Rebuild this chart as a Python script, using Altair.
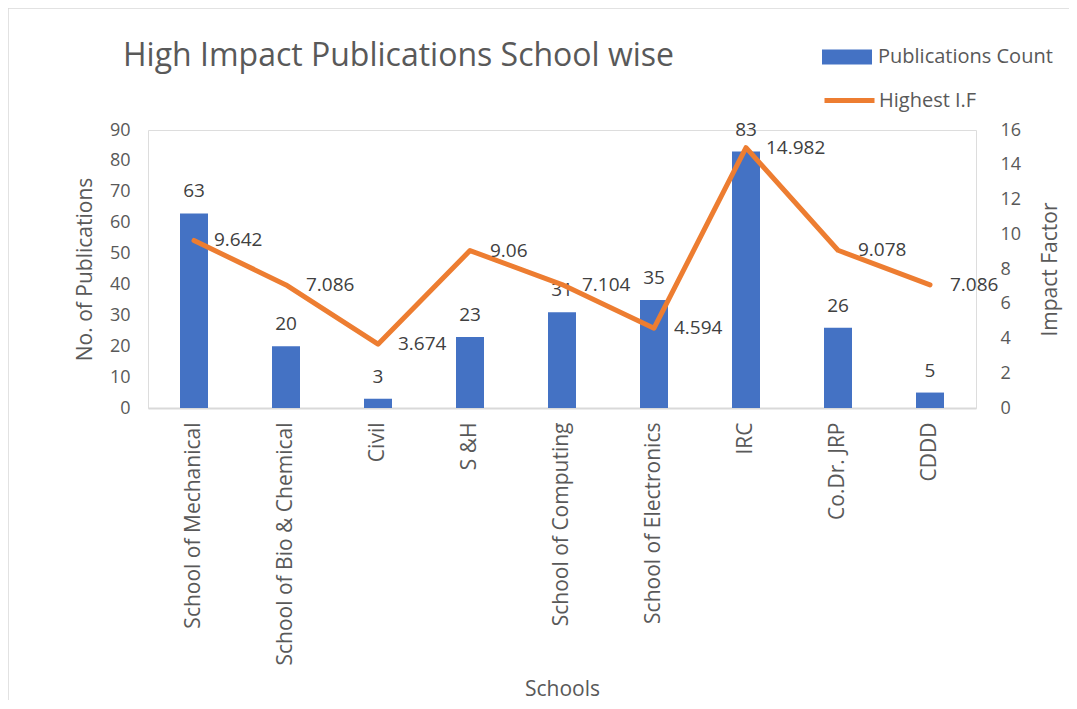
import altair as alt
import pandas as pd

schools = ["School of Mechanical", "School of Bio & Chemical", "Civil", "S &H",
           "School of Computing", "School of Electronics", "IRC", "Co.Dr. JRP", "CDDD"]
pub_count = [63, 20, 3, 23, 31, 35, 83, 26, 5]
impact = [9.642, 7.086, 3.674, 9.06, 7.104, 4.594, 14.982, 9.078, 7.086]
chart_title = "High Impact Publications School wise"

df = pd.DataFrame({
    "school": schools,
    "count": pub_count,
    "impact": impact,
    "count_lbl": [str(v) for v in pub_count],
    "impact_lbl": [str(v) for v in impact],
})

FONT = "Open Sans"
GRAY = "#595959"
LBL = "#404040"
BLUE = "#4472C4"
ORANGE = "#ED7D31"

xenc = alt.X("school:N", sort=schools, title="Schools",
             scale=alt.Scale(paddingInner=0, paddingOuter=0),
             axis=alt.Axis(labelAngle=-90, labelFontSize=21, labelColor=GRAY, labelFont=FONT,
                           labelPadding=14, ticks=False, domainColor="#d9d9d9", domainWidth=2,
                           titleFontSize=21, titleColor=GRAY, titleFont=FONT, titleFontWeight="normal",
                           titleY=281, titleBaseline="middle", labelLimit=400))

yleft = alt.Y("count:Q", title="No. of Publications",
              scale=alt.Scale(domain=[0, 90]),
              axis=alt.Axis(values=list(range(0, 91, 10)), grid=False, domain=False, ticks=False,
                            labelFontSize=18, labelColor=GRAY, labelFont=FONT, labelPadding=18,
                            titleFontSize=21, titleColor=GRAY, titleFont=FONT, titleFontWeight="normal",
                            titleX=-63, titleY=139, titleAngle=270, titleAlign="center",
                            titleBaseline="middle"))

yright = alt.Y("impact:Q", title="Impact Factor",
               scale=alt.Scale(domain=[0, 16]),
               axis=alt.Axis(orient="right", values=list(range(0, 17, 2)), grid=False, domain=False,
                             ticks=False, labelFontSize=18, labelColor=GRAY, labelFont=FONT,
                             labelPadding=24, titleFontSize=21, titleColor=GRAY, titleFont=FONT,
                             titleFontWeight="normal", titleX=74, titleY=139, titleAngle=270,
                             titleAlign="center", titleBaseline="middle"))

base = alt.Chart(df)

bars = base.mark_bar(size=28, color=BLUE).transform_calculate(
    series="'Publications Count'"
).encode(
    x=xenc, y=yleft,
    fill=alt.Fill("series:N", scale=alt.Scale(domain=["Publications Count"], range=[BLUE]),
                  legend=alt.Legend(title=None, orient="none", legendX=674, legendY=-98,
                                    symbolType="M-1,-0.3H1V0.3H-1Z", symbolSize=2500,
                                    labelFontSize=20, labelColor=GRAY, labelFont=FONT,
                                    labelOffset=6, symbolStrokeWidth=0, labelLimit=300))
)
bar_txt = base.mark_text(fontSize=19, font=FONT, color=LBL, baseline="alphabetic", dy=-16).encode(
    x=xenc, y=yleft, text="count_lbl:N"
)

line = base.mark_line(strokeWidth=5, strokeJoin="round", strokeCap="round").transform_calculate(
    series2="'Highest I.F'"
).encode(
    x=xenc, y=yright,
    stroke=alt.Stroke("series2:N", scale=alt.Scale(domain=["Highest I.F"], range=[ORANGE]),
                      legend=alt.Legend(title=None, orient="none", legendX=674, legendY=-57,
                                        symbolType="stroke", symbolSize=2500, symbolStrokeWidth=5,
                                        labelFontSize=20, labelColor=GRAY, labelFont=FONT,
                                        labelOffset=2, labelLimit=300))
)
line_txt = base.mark_text(fontSize=19, font=FONT, color=LBL, align="left", baseline="middle", dx=20).encode(
    x=xenc, y=yright, text="impact_lbl:N"
)

one = pd.DataFrame({"t": [chart_title]})
title_txt = alt.Chart(one).mark_text(fontSize=32, font=FONT, color=GRAY, align="left",
                                     baseline="alphabetic").encode(
    x=alt.value(-25), y=alt.value(-64), text="t:N"
)
frame = alt.Chart(one).mark_rule(color="#d9d9d9", strokeWidth=1.5).encode(
    x=alt.value(-140), x2=alt.value(1000), y=alt.value(-122)
)
frame2 = alt.Chart(one).mark_rule(color="#d9d9d9", strokeWidth=1.5).encode(
    x=alt.value(-140), y=alt.value(-122), y2=alt.value(570)
)

left = alt.layer(bars, bar_txt)
right = alt.layer(line, line_txt)

chart = alt.layer(left, right, title_txt, frame, frame2).resolve_scale(y="independent").properties(
    width=828, height=278,
    autosize=alt.AutoSizeParams(type="none"),
    padding={"left": 140, "top": 122, "right": 93, "bottom": 299},
).configure_view(strokeWidth=0).configure(background="white")

chart.save("out.html", embed_options={"renderer": "svg", "actions": False})
